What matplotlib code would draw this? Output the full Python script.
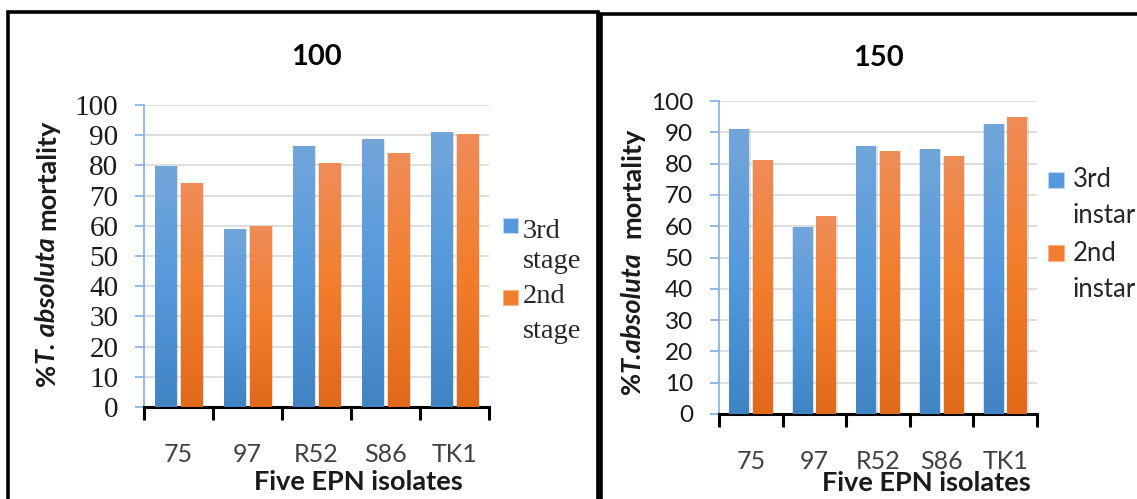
import numpy as np
import matplotlib
matplotlib.use("Agg")
import matplotlib.pyplot as plt
from matplotlib.colors import LinearSegmentedColormap
from matplotlib.patches import Rectangle

# data
isolates = ["75", "97", "R52", "S86", "TK1"]
third_100 = [79.8, 58.9, 86.5, 88.6, 91.2]
second_100 = [74.3, 59.8, 80.7, 84.0, 90.4]
third_150 = [91.2, 59.9, 85.6, 84.7, 92.8]
second_150 = [81.3, 63.1, 83.9, 82.4, 94.9]
labels_100 = ["3rd", "stage", "2nd", "stage"]
labels_150 = ["3rd", "instar", "2nd", "instar"]

blue_cm = LinearSegmentedColormap.from_list("b", ["#4184c4", "#5599dc", "#72a6da"])
orange_cm = LinearSegmentedColormap.from_list("o", ["#e0691a", "#f27e2c", "#ef8c57"])
grad = np.linspace(0, 1, 100).reshape(-1, 1)

W, H = 1137, 499
fig = plt.figure(figsize=(W / 100, H / 100), dpi=100)
renderer = fig.canvas.get_renderer()


def fx(px):
    return px / W


def fy(py):
    return 1 - py / H


# panel frames
fig.add_artist(Rectangle((fx(8), -0.05), 590 / W, 1.026, transform=fig.transFigure,
                         fill=False, ec="black", lw=2.6))
fig.add_artist(Rectangle((fx(601), -0.05), 0.6, 1.022, transform=fig.transFigure,
                         fill=False, ec="black", lw=2.6))


def ylabel_pieces(pieces, cx, cy, size):
    # rotated label made of upright / italic pieces, stacked bottom to top
    font = dict(family="Lato", weight="bold", size=size, color="#1a1a1a")
    a = fig.text(0, 0, "a a", **font)
    b = fig.text(0, 0, "aa", **font)
    space = a.get_window_extent(renderer).width - b.get_window_extent(renderer).width
    a.remove()
    b.remove()
    texts = []
    for s, style, gap in pieces:
        t = fig.text(0, 0, s, rotation=90, rotation_mode="anchor", ha="left", va="center",
                     style=style, **font)
        texts.append((t, t.get_window_extent(renderer).height, gap * space))
    total = sum(h + g for _, h, g in texts)
    y = cy + total / 2  # bottom end in pixels from top
    for t, h, g in texts:
        y -= g
        t.set_position((fx(cx), fy(y)))
        y -= h


def legend_block(lines, sq_x, sq_tops, text_x, baselines, font, size, sq=15):
    colors = [("#5599dc", "#bcd6f0"), ("#f07d2e", "#f7b48a")]
    for (fc, ec), top in zip(colors, sq_tops):
        fig.add_artist(Rectangle((fx(sq_x), fy(top + sq)), sq / W, sq / H, transform=fig.transFigure,
                                 fc=fc, ec=ec, lw=0.8))
    for s, bl in zip(lines, baselines):
        fig.text(fx(text_x), fy(bl), s, family=font, size=size, color="#262626",
                 ha="left", va="baseline")


def draw_panel(ax, third, second, title, tick_font, tick_size, xlab_pos, title_pad):
    x = np.arange(len(isolates))
    w, gap = 0.31, 0.06
    for vals, off, cm in [(third, -(w + gap) / 2, blue_cm), (second, (w + gap) / 2, orange_cm)]:
        # soft shadow
        ax.bar(x + off + 0.01, vals, w + 0.035, color="#a0a0a0", alpha=0.3, zorder=2)
        bars = ax.bar(x + off, vals, w, color="none", zorder=3)
        for b in bars:
            im = ax.imshow(grad, extent=[b.get_x(), b.get_x() + b.get_width(), 0, b.get_height()],
                           origin="lower", aspect="auto", cmap=cm, zorder=3)
            im.set_clip_path(b)
    ax.set_xlim(-0.5, len(isolates) - 0.5)
    ax.set_ylim(0, 100)
    ax.set_yticks(range(0, 101, 10))
    ax.yaxis.grid(True, color="#d9d9d9", lw=1.2)
    ax.set_axisbelow(True)
    for s in ["top", "right"]:
        ax.spines[s].set_visible(False)
    ax.spines["left"].set_color("#7fb0e0")
    ax.spines["left"].set_linewidth(1.2)
    ax.spines["bottom"].set_color("black")
    ax.spines["bottom"].set_linewidth(2.2)
    ax.tick_params(axis="y", colors="#7fb0e0", length=6.5, width=1.2, labelcolor="#1a1a1a",
                   labelsize=tick_size, pad=12)
    for t in ax.get_yticklabels():
        t.set_fontfamily(tick_font)
    ax.set_xticks(x)
    ax.set_xticklabels(isolates, fontfamily="Lato", fontsize=18, color="#404040")
    ax.set_xticks(np.arange(-0.5, len(isolates)), minor=True)
    ax.tick_params(axis="x", which="major", length=0, pad=26)
    ax.tick_params(axis="x", which="minor", length=9, width=2.2, color="black", direction="out")
    ax.set_title(title, fontfamily="Lato", fontweight="bold", fontsize=21, pad=title_pad)
    ax.text(xlab_pos[0], xlab_pos[1], "Five EPN isolates", transform=ax.transAxes, ha="center",
            va="center", fontfamily="Lato", fontweight="bold", fontsize=19.5, color="#1a1a1a")


ax1 = fig.add_axes([fx(144), fy(407), 345 / W, 302 / H])
draw_panel(ax1, third_100, second_100, "100", "Liberation Serif", 21, (0.62, -0.25), 29)

ax2 = fig.add_axes([fx(719), fy(414), 318 / W, 313 / H])
draw_panel(ax2, third_150, second_150, "150", "Lato", 17.5, (0.651, -0.22), 25)

legend_block(labels_100, 503, [218, 290], 523, [238, 268, 303, 338], "Liberation Serif", 20.5)
legend_block(labels_150, 1048, [172, 245], 1073, [187, 223, 261, 297], "Lato", 18.5, sq=16)

ylabel_pieces([("%", "normal", 0), ("T. absoluta", "italic", 0), ("mortality", "normal", 1)],
              47, 253, 19.5)
ylabel_pieces([("%", "normal", 0), ("T.absoluta", "italic", 0), ("mortality", "normal", 2)],
              632, 261, 19.5)

fig.savefig("out.png", dpi=100)
